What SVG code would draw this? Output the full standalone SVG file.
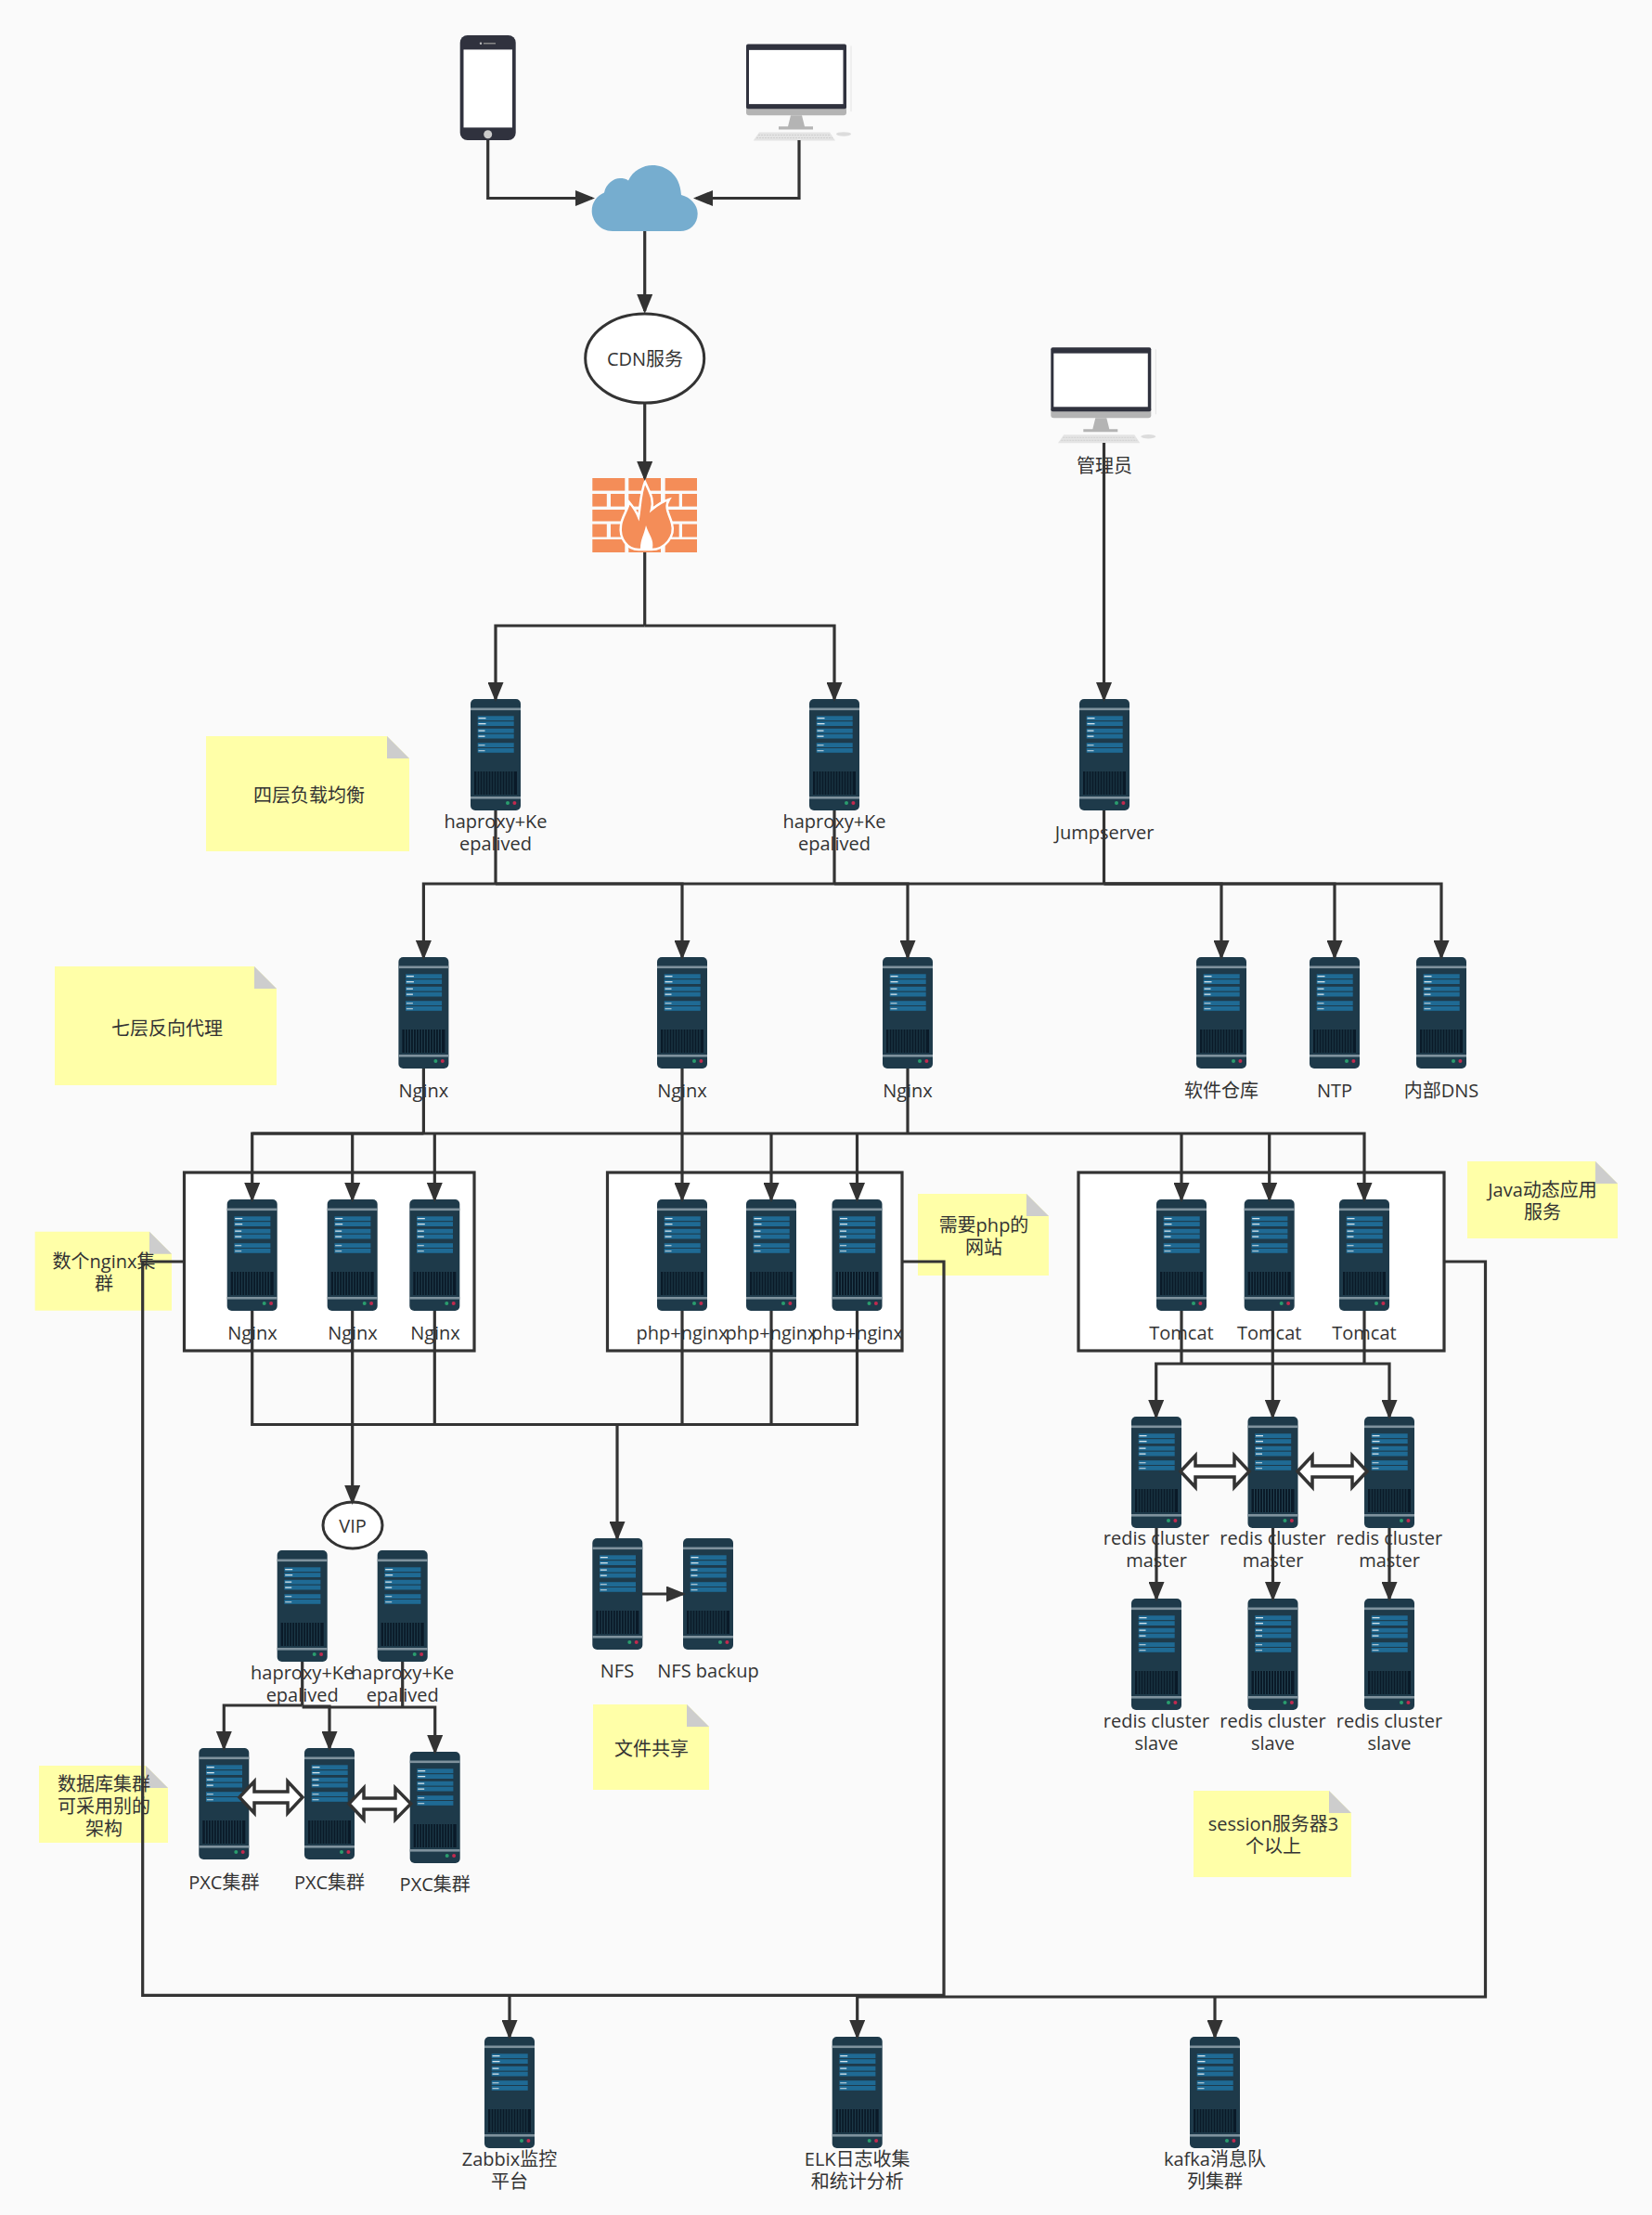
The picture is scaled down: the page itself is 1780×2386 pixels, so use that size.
<svg xmlns="http://www.w3.org/2000/svg" xmlns:xlink="http://www.w3.org/1999/xlink" width="1780" height="2386" viewBox="0 0 1780 2386">
<style>
text{font-family:"Open Sans","Noto Sans CJK SC",sans-serif;font-size:20px;fill:#333;text-anchor:middle;dominant-baseline:central}
.c{fill:none;stroke:#333;stroke-width:3.2}
.a{marker-end:url(#arr)}
.box{fill:#fff;stroke:#333;stroke-width:3.2}
.note{fill:#ffffa8}
.fold{fill:#cdcdcd}
.dbl{fill:#fff;stroke:#333;stroke-width:3.5}
.brick{fill:#f48d58}
</style>
<defs>
<marker id="arr" markerUnits="userSpaceOnUse" markerWidth="21" markerHeight="17" refX="18" refY="8.500" orient="auto"><path d="M0,0L21,8.500L0,17z" fill="#333"/></marker>
<symbol id="srv" width="54" height="120" viewBox="0 0 54 120" overflow="visible">
<rect width="54" height="120" rx="5" fill="#1e3a4a"/>
<rect y="9.5" width="54" height="2.6" fill="#7f929d"/>
<rect y="105" width="54" height="2.6" fill="#7f929d"/>
<rect x="7.7" y="18.3" width="39" height="4.8" fill="#1f6a94"/><rect x="7.7" y="24.2" width="39" height="4.8" fill="#1f6a94"/>
<rect x="7.7" y="31.8" width="39" height="4.8" fill="#1f6a94"/><rect x="7.7" y="37.7" width="39" height="4.8" fill="#1f6a94"/>
<rect x="7.7" y="47.2" width="39" height="4.8" fill="#1f6a94"/><rect x="7.7" y="53" width="39" height="4.8" fill="#1f6a94"/>
<rect x="8.5" y="20" width="8" height="1.3" fill="#d5e3ea"/><rect x="8.5" y="26" width="8" height="1.3" fill="#d5e3ea"/>
<rect x="8.5" y="33.5" width="7" height="1.3" fill="#d5e3ea"/><rect x="8.5" y="39.5" width="7" height="1.3" fill="#d5e3ea"/>
<rect x="8.5" y="49" width="7" height="1.3" fill="#a9c3d1"/><rect x="8.5" y="55" width="7" height="1.3" fill="#a9c3d1"/>
<rect x="4" y="78" width="46" height="25" fill="#0a1a28"/>
<path d="M7 78v25M10 78v25M13 78v25M16 78v25M19 78v25M22 78v25M25 78v25M28 78v25M31 78v25M34 78v25M37 78v25M40 78v25M43 78v25M46 78v25" stroke="#21404f" stroke-width="1" fill="none"/>
<circle cx="40" cy="112" r="2" fill="#2a9d6e"/><circle cx="47.4" cy="112" r="2" fill="#c22a4f"/>
</symbol>
<symbol id="pc" viewBox="0 0 114 103" preserveAspectRatio="none" overflow="visible">
<path d="M113,2V72" stroke="#e4e4e4" stroke-width="1" fill="none"/>
<path d="M0,66H108V73a3,3 0 0 1-3,3H3a3,3 0 0 1-3-3z" fill="#b4b4b4"/>
<rect width="108" height="69" rx="2" fill="#30323e"/>
<rect x="3" y="6.300" width="101.500" height="57.700" fill="#fff"/>
<path d="M48,76H60L63,88H72V91H35V88H45z" fill="#b4b4b4"/>
<path d="M7.700,103L14,94H90L96,103z" fill="#e4e4e4"/>
<path d="M13,97H91M11,100H93" stroke="#d0d0d0" stroke-width="1" stroke-dasharray="2 1" fill="none"/>
<ellipse cx="105" cy="96" rx="8" ry="2.200" fill="#dcdcdc"/>
</symbol>
</defs>
<rect width="1780" height="2386" fill="#fafafa"/>

<g id="phone"><rect x="495.700" y="38" width="60" height="113" rx="8" fill="#30323e"/><rect x="499.500" y="53.400" width="52.500" height="84" fill="#fff"/><rect x="521" y="46" width="13" height="1.500" fill="#888"/><circle cx="518" cy="46.700" r="1.200" fill="#bbb"/><ellipse cx="525.700" cy="144.700" rx="4.500" ry="4.500" fill="#ccc"/></g>
<g id="desktop"><use href="#pc" x="804" y="47.500" width="114" height="104"/></g>
<g id="cloud"><path d="M660,249C646,249 637.700,237 637.700,227.500C637.700,218 643,211 651,207.500C653,198 661,192 668,192C671,192 675,192.600 677,194.400C682,183.800 693,178 703,178C717,178 733,187.500 734,210C744,212.400 751.700,220.700 751.700,230C751.700,242 743,249 733,249z" fill="#76adcf"/></g>
<g id="cdn"><ellipse cx="694.700" cy="386" rx="64" ry="48" fill="#fff" stroke="#333" stroke-width="3"/><text x="695" y="386">CDN服务</text></g>
<g id="firewall">
<rect class="brick" x="638.300" y="515" width="35" height="13.600"/><rect class="brick" x="677.300" y="515" width="34.700" height="13.600"/><rect class="brick" x="716.700" y="515" width="34.300" height="13.600"/>
<rect class="brick" x="638.300" y="532" width="15.500" height="13.600"/><rect class="brick" x="658" y="532" width="15" height="13.600"/><rect class="brick" x="677.300" y="532" width="34.700" height="13.600"/><rect class="brick" x="716.700" y="532" width="15" height="13.600"/><rect class="brick" x="735" y="532" width="16" height="13.600"/>
<rect class="brick" x="638.300" y="549" width="35" height="12.500"/><rect class="brick" x="677.300" y="549" width="34.700" height="12.500"/><rect class="brick" x="716.700" y="549" width="34.300" height="12.500"/>
<rect class="brick" x="638.300" y="564.600" width="15.500" height="13.900"/><rect class="brick" x="658" y="564.600" width="15" height="13.900"/><rect class="brick" x="677.300" y="564.600" width="34.700" height="13.900"/><rect class="brick" x="716.700" y="564.600" width="15" height="13.900"/><rect class="brick" x="735" y="564.600" width="16" height="13.900"/>
<rect class="brick" x="638.300" y="581" width="35" height="14"/><rect class="brick" x="677.300" y="581" width="34.700" height="14"/><rect class="brick" x="716.700" y="581" width="34.300" height="14"/>
<path d="M695,519C700,531 705,537 702,549C708,544 714,540 721,538C715,547 722,555 724,564C728,578 716,592 702,592H688C676,592 667,580 669,566C670,557 676,550 678,541C683,547 686,552 688,557C690,545 690,531 695,519z" fill="#f48d58" stroke="#fff" stroke-width="2.500"/>
<path d="M690,591C690,581 694,576 696,566C699,576 705,581 703,591z" fill="#fff"/>
</g>
<g id="admin"><use href="#pc" x="1132.300" y="374.300" width="114" height="103"/><text x="1190" y="501">管理员</text></g>

<g id="note1"><path class="note" d="M222,793H417L441,817V917H222z"/><path class="fold" d="M417,793L441,817H417z"/><text x="333" y="856">四层负载均衡</text></g>
<g id="note2"><path class="note" d="M59,1041H274L298,1065V1169H59z"/><path class="fold" d="M274,1041L298,1065H274z"/><text x="180" y="1107">七层反向代理</text></g>
<g id="note3"><path class="note" d="M37.700,1326.700H161L185,1350.700V1411.700H37.700z"/><path class="fold" d="M161,1326.700L185,1350.700H161z"/><text x="112" y="1358">数个nginx集</text><text x="112" y="1382">群</text></g>
<g id="note4"><path class="note" d="M989,1286H1106L1130,1310V1374H989z"/><path class="fold" d="M1106,1286L1130,1310H1106z"/><text x="1060" y="1319">需要php的</text><text x="1060" y="1343">网站</text></g>
<g id="note5"><path class="note" d="M1581,1251H1719L1743,1275V1334H1581z"/><path class="fold" d="M1719,1251L1743,1275H1719z"/><text x="1662" y="1281">Java动态应用</text><text x="1662" y="1305">服务</text></g>
<g id="note6"><path class="note" d="M42,1902H157L181,1926V1985H42z"/><path class="fold" d="M157,1902L181,1926H157z"/><text x="112" y="1921">数据库集群</text><text x="112" y="1945">可采用别的</text><text x="112" y="1969">架构</text></g>
<g id="note7"><path class="note" d="M639,1836H740L764,1860V1928H639z"/><path class="fold" d="M740,1836L764,1860H740z"/><text x="702" y="1883">文件共享</text></g>
<g id="note8"><path class="note" d="M1286,1929H1432L1456,1953V2022H1286z"/><path class="fold" d="M1432,1929L1456,1953H1432z"/><text x="1372" y="1964">session服务器3</text><text x="1372" y="1988">个以上</text></g>

<g id="box-nginx"><rect class="box" x="198.500" y="1263" width="312.500" height="192"/></g>
<g id="box-php"><rect class="box" x="654.500" y="1263" width="317.500" height="192"/></g>
<g id="box-tomcat"><rect class="box" x="1162" y="1263" width="394" height="192"/></g>

<g id="ha1"><use href="#srv" x="507" y="753"/><text x="534" y="884">haproxy+Ke</text><text x="534" y="908">epalived</text></g>
<g id="ha2"><use href="#srv" x="872" y="753"/><text x="899" y="884">haproxy+Ke</text><text x="899" y="908">epalived</text></g>
<g id="jump"><use href="#srv" x="1163" y="753"/><text x="1190" y="896">Jumpserver</text></g>

<g id="n1"><use href="#srv" x="429.400" y="1031"/><text x="456.400" y="1174">Nginx</text></g>
<g id="n2"><use href="#srv" x="708" y="1031"/><text x="735" y="1174">Nginx</text></g>
<g id="n3"><use href="#srv" x="951" y="1031"/><text x="978" y="1174">Nginx</text></g>
<g id="repo"><use href="#srv" x="1289" y="1031"/><text x="1316" y="1174">软件仓库</text></g>
<g id="ntp"><use href="#srv" x="1411" y="1031"/><text x="1438" y="1174">NTP</text></g>
<g id="dns"><use href="#srv" x="1526" y="1031"/><text x="1553" y="1174">内部DNS</text></g>

<g id="w1"><use href="#srv" x="244.700" y="1292"/><text x="272" y="1435">Nginx</text></g>
<g id="w2"><use href="#srv" x="352.700" y="1292"/><text x="380" y="1435">Nginx</text></g>
<g id="w3"><use href="#srv" x="441.300" y="1292"/><text x="469" y="1435">Nginx</text></g>
<g id="p1"><use href="#srv" x="708" y="1292"/><text x="735" y="1435">php+nginx</text></g>
<g id="p2"><use href="#srv" x="804" y="1292"/><text x="831" y="1435">php+nginx</text></g>
<g id="p3"><use href="#srv" x="896.500" y="1292"/><text x="923.500" y="1435">php+nginx</text></g>
<g id="t1"><use href="#srv" x="1246" y="1292"/><text x="1273" y="1435">Tomcat</text></g>
<g id="t2"><use href="#srv" x="1340.700" y="1292"/><text x="1367.700" y="1435">Tomcat</text></g>
<g id="t3"><use href="#srv" x="1443" y="1292"/><text x="1470" y="1435">Tomcat</text></g>

<g id="r1"><use href="#srv" x="1219" y="1526"/><text x="1246" y="1656">redis cluster</text><text x="1246" y="1680">master</text></g>
<g id="r2"><use href="#srv" x="1344.500" y="1526"/><text x="1371.500" y="1656">redis cluster</text><text x="1371.500" y="1680">master</text></g>
<g id="r3"><use href="#srv" x="1470" y="1526"/><text x="1497" y="1656">redis cluster</text><text x="1497" y="1680">master</text></g>
<g id="s1"><use href="#srv" x="1219" y="1722"/><text x="1246" y="1853">redis cluster</text><text x="1246" y="1877">slave</text></g>
<g id="s2"><use href="#srv" x="1344.500" y="1722"/><text x="1371.500" y="1853">redis cluster</text><text x="1371.500" y="1877">slave</text></g>
<g id="s3"><use href="#srv" x="1470" y="1722"/><text x="1497" y="1853">redis cluster</text><text x="1497" y="1877">slave</text></g>

<g id="vip"><ellipse cx="380" cy="1643" rx="32" ry="25" fill="#fff" stroke="#333" stroke-width="3"/><text x="380" y="1643">VIP</text></g>
<g id="dbha1"><use href="#srv" x="298.700" y="1670"/><text x="325.700" y="1801">haproxy+Ke</text><text x="325.700" y="1825">epalived</text></g>
<g id="dbha2"><use href="#srv" x="406.700" y="1670"/><text x="433.700" y="1801">haproxy+Ke</text><text x="433.700" y="1825">epalived</text></g>
<g id="pxc1"><use href="#srv" x="214.300" y="1883"/><text x="241.300" y="2027">PXC集群</text></g>
<g id="pxc2"><use href="#srv" x="328" y="1883"/><text x="355" y="2027">PXC集群</text></g>
<g id="pxc3"><use href="#srv" x="441.700" y="1887"/><text x="468.700" y="2029">PXC集群</text></g>
<g id="nfs"><use href="#srv" x="638.300" y="1657"/><text x="665" y="1799">NFS</text></g>
<g id="nfsb"><use href="#srv" x="736" y="1657"/><text x="763" y="1799">NFS backup</text></g>

<g id="zabbix"><use href="#srv" x="522" y="2194"/><text x="549" y="2325">Zabbix监控</text><text x="549" y="2349">平台</text></g>
<g id="elk"><use href="#srv" x="896.700" y="2194"/><text x="923.700" y="2325">ELK日志收集</text><text x="923.700" y="2349">和统计分析</text></g>
<g id="kafka"><use href="#srv" x="1282" y="2194"/><text x="1309" y="2325">kafka消息队</text><text x="1309" y="2349">列集群</text></g>

<g id="connectors">
<path class="c a" d="M525.700,151V213.500H638"/>
<path class="c a" d="M861,151V213.500H750"/>
<path class="c a" d="M694.700,249V335"/>
<path class="c a" d="M694.700,434V515"/>
<path class="c" d="M694.700,595V674"/>
<path class="c a" d="M694.700,674H534V753"/>
<path class="c a" d="M694.700,674H899V753"/>
<path class="c a" d="M1189.500,477V753"/>
<path class="c" d="M534,873V952"/><path class="c" d="M899,873V952"/><path class="c" d="M1189.500,873V952"/>
<path class="c a" d="M534,952H456.400V1031"/>
<path class="c a" d="M534,952H735V1031"/>
<path class="c a" d="M899,952H978V1031"/>
<path class="c a" d="M1189.500,952H1316V1031"/>
<path class="c a" d="M1189.500,952H1438V1031"/>
<path class="c a" d="M1189.500,952H1553V1031"/>
<path class="c" d="M534,952H1189.500"/>
<path class="c" d="M456.400,1151V1221"/>
<path class="c" d="M978,1151V1221"/>
<path class="c a" d="M735,1151V1292"/>
<path class="c a" d="M456.400,1221H271.700V1292"/>
<path class="c a" d="M379.700,1221V1292"/>
<path class="c a" d="M468.300,1221V1292"/>
<path class="c a" d="M831,1221V1292"/>
<path class="c a" d="M923.500,1221V1292"/>
<path class="c a" d="M1273,1221V1292"/>
<path class="c a" d="M1367.700,1221V1292"/>
<path class="c a" d="M978,1221H1470V1292"/>
<path class="c" d="M271.700,1221H978"/>
<path class="c" d="M271.700,1412V1534.500H923.500V1412"/>
<path class="c" d="M468.300,1412V1534.500"/>
<path class="c" d="M735,1412V1534.500"/>
<path class="c" d="M831,1412V1534.500"/>
<path class="c a" d="M665,1534.500V1657"/>
<path class="c a" d="M379.700,1412V1618"/>
<path class="c" d="M1273,1412V1469"/><path class="c" d="M1470,1412V1469"/>
<path class="c a" d="M1371.300,1412V1526"/>
<path class="c a" d="M1273,1469H1245.700V1526"/>
<path class="c a" d="M1273,1469H1497V1526"/>
<path class="c a" d="M1246,1646V1722"/>
<path class="c a" d="M1371.500,1646V1722"/>
<path class="c a" d="M1497,1646V1722"/>
<path class="c a" d="M692,1717H736"/>
<path class="c" d="M325.700,1790V1837"/>
<path class="c a" d="M325.700,1837H241.300V1883"/>
<path class="c a" d="M325.700,1838H355V1883"/>
<path class="c a" d="M325.700,1839H468.700V1887"/>
<path class="c" d="M433.700,1790V1839"/>
<path class="c" d="M198.500,1359H153.700V2149.300H1017V1359H972"/>
<path class="c" d="M1556,1359H1600.500V2151H923.700"/>
<path class="c a" d="M549,2149.300V2194"/>
<path class="c a" d="M923.700,2149.300V2194"/>
<path class="c a" d="M1309,2151V2194"/>
<path class="dbl" d="M258,1936L274,1919V1930H310V1919L326,1936L310,1953V1942H274V1953z"/>
<path class="dbl" d="M376,1943L392,1926V1937H426V1926L442.700,1943L426,1960V1949H392V1960z"/>
<path class="dbl" d="M1272,1585L1288,1568V1579H1330V1568L1346,1585L1330,1602V1591H1288V1602z"/>
<path class="dbl" d="M1398,1585L1414,1568V1579H1457V1568L1473,1585L1457,1602V1591H1414V1602z"/>
</g>
</svg>
